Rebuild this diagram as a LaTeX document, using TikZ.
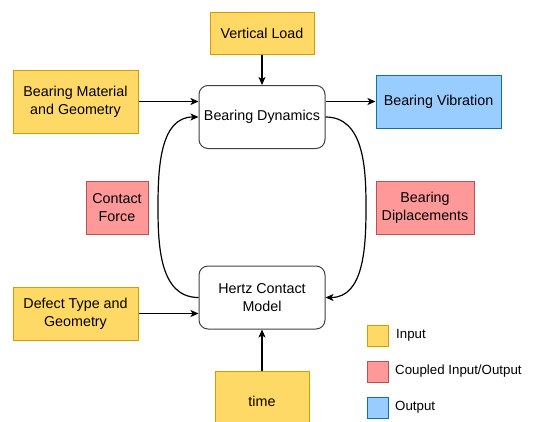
\documentclass[tikz,border=0pt]{standalone}
\usepackage{fontspec}
\setmainfont{Liberation Sans}
\usetikzlibrary{arrows.meta}
\definecolor{inFill}{HTML}{FFD966}
\definecolor{inLine}{HTML}{D79B00}
\definecolor{cpFill}{HTML}{FF9999}
\definecolor{cpLine}{HTML}{B85450}
\definecolor{outFill}{HTML}{99CCFF}
\definecolor{outLine}{HTML}{10739E}
\tikzset{
  box/.style={draw, line width=1pt, align=center, inner sep=0pt,
    font=\fontsize{14.3}{18.3}\selectfont},
  inbox/.style={box, fill=inFill, draw=inLine},
  cpbox/.style={box, fill=cpFill, draw=cpLine},
  outbox/.style={box, fill=outFill, draw=outLine},
  model/.style={box, draw=black!75, fill=white, rounded corners=9pt,
    minimum width=126pt, minimum height=63pt},
  key/.style={draw, line width=1pt, minimum width=21pt, minimum height=21pt, inner sep=0pt},
  keytext/.style={anchor=west, inner sep=0pt, font=\fontsize{13.3}{16}\selectfont},
  link/.style={line width=1.2pt, -{Stealth[length=8pt,width=7pt,inset=2pt]}}
}
\begin{document}
\begin{tikzpicture}[x=1pt, y=-1pt]
  \useasboundingbox (0,0) rectangle (533,421);

  % central models
  \node[model] (dyn) at (262,117) {Bearing Dynamics};
  \node[model] (hertz) at (262,297.5) {Hertz Contact\\Model};

  % inputs
  \node[inbox, minimum width=104pt, minimum height=42pt] (vload) at (262,33) {Vertical Load};
  \node[inbox, minimum width=125pt, minimum height=63pt] (mat) at (75.5,101.5) {Bearing Material\\and Geometry};
  \node[inbox, minimum width=125pt, minimum height=53pt] (defect) at (75.5,313.5) {Defect Type and\\Geometry};
  \node[inbox, minimum width=94pt, minimum height=60pt] (time) at (262,401) {time};

  % output
  \node[outbox, minimum width=125pt, minimum height=53pt] (vib) at (438.5,101.5) {Bearing Vibration};

  % coupled quantities
  \node[cpbox, minimum width=62pt, minimum height=53pt] (cf) at (117,207.5) {Contact\\Force};
  \node[cpbox, minimum width=98pt, minimum height=53pt] (disp) at (425,207.5) {Bearing\\Diplacements};

  % straight connectors
  \draw[link] (vload.south) -- (dyn.north);
  \draw[link] (mat.east) -- (dyn.west |- mat.east);
  \draw[link] (dyn.east |- vib.west) -- (vib.west);
  \draw[link] (defect.east) -- (hertz.west |- defect.east);
  \draw[link] (time.north) -- (hertz.south);

  % coupling loop
  \coordinate (lc) at (158,207);
  \coordinate (rc) at (366,207);
  \draw[link] (hertz.west) to[out=180,in=-90] (lc) to[out=90,in=180] (dyn.west);
  \draw[link] (dyn.east) to[out=0,in=90] (rc) to[out=-90,in=0] (hertz.east);

  % legend
  \node[key, fill=inFill, draw=inLine] (k1) at (377.5,335.5) {};
  \node[key, fill=cpFill, draw=cpLine] (k2) at (377.5,371.5) {};
  \node[key, fill=outFill, draw=outLine] (k3) at (377.5,407.5) {};
  \node[keytext] (t1) at (396,335.5) {Input};
  \node[keytext] (t2) at (395,371.5) {Coupled Input/Output};
  \node[keytext] (t3) at (395,407.5) {Output};
\end{tikzpicture}
\end{document}
